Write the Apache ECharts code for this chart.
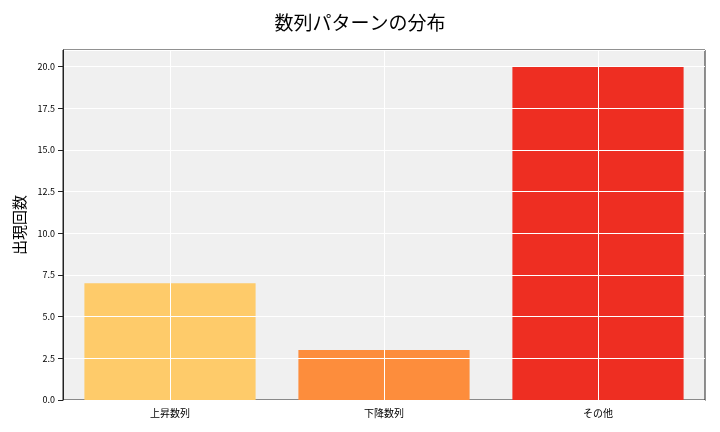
<html>
<head>
    <script src="https://cdn.jsdelivr.net/npm/echarts@6.0.0/dist/echarts.min.js"></script>
    <style>
        body { margin: 0 }
        #chart { width: 720px; height: 432px; }
    </style>
</head>
<body>
    <div id="chart"></div>
    <script>
        const categories = ['上昇数列', '下降数列', 'その他'];
        const counts = [7, 3, 20];
        const colors = ['#FECB6A', '#FD8D3C', '#EE2E22'];

        const font = '"Noto Sans CJK JP", sans-serif';
        const myChart = echarts.init(document.getElementById('chart'));

        myChart.setOption({
            animation: false,
            title: {
                text: '数列パターンの分布',
                left: 'center',
                top: 8,
                textStyle: { fontFamily: font, fontSize: 19, fontWeight: 'normal', color: '#000' }
            },
            grid: {
                left: 63, right: 15, top: 50, bottom: 32,
                show: true, backgroundColor: '#F0F0F0', borderColor: '#222', borderWidth: 1
            },
            xAxis: {
                type: 'category',
                data: categories,
                axisLine: { lineStyle: { color: '#222' } },
                axisTick: { alignWithLabel: true, lineStyle: { color: '#222' } },
                axisLabel: { fontFamily: font, fontSize: 10, color: '#000' },
                splitLine: { show: false }
            },
            yAxis: {
                type: 'value',
                min: 0, max: 21, interval: 2.5,
                z: 5,
                name: '出現回数',
                nameLocation: 'middle',
                nameGap: 36,
                nameTextStyle: { fontFamily: font, fontSize: 15, color: '#000' },
                axisLine: { show: true, lineStyle: { color: '#222' } },
                axisTick: { show: true, lineStyle: { color: '#222' } },
                axisLabel: {
                    fontFamily: font, fontSize: 9, color: '#000', showMaxLabel: false,
                    formatter: v => v.toFixed(1)
                },
                splitLine: { show: true, lineStyle: { color: '#fff', width: 1 } }
            },
            series: [{
                type: 'bar',
                barWidth: '80%',
                data: counts.map((v, i) => ({ value: v, itemStyle: { color: colors[i] } })),
                markLine: {
                    silent: true,
                    symbol: 'none',
                    label: { show: false },
                    lineStyle: { color: '#fff', type: 'solid', width: 1 },
                    data: categories.map(c => ({ xAxis: c }))
                }
            }]
        });
    </script>
</body>
</html>
